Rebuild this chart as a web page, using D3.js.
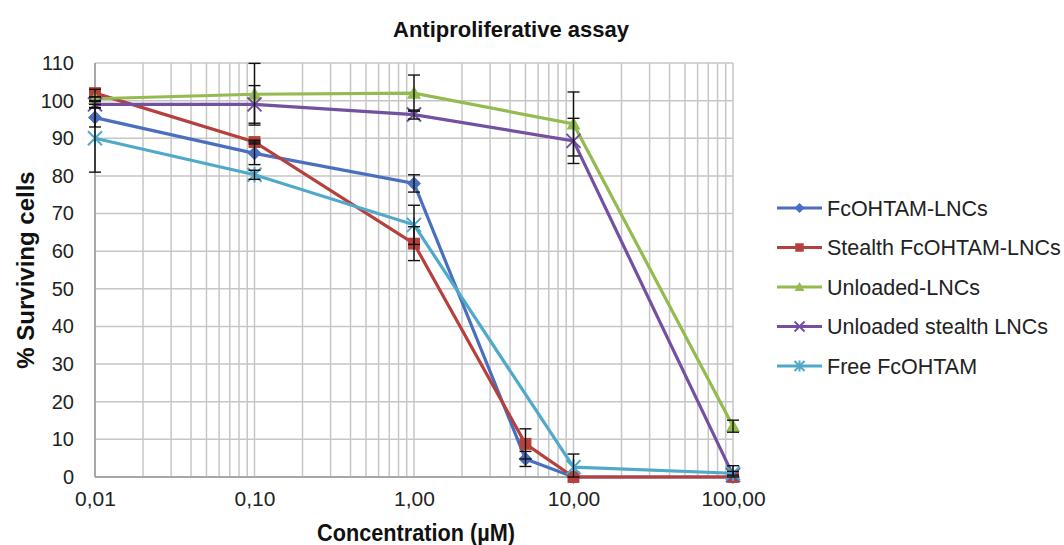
<!DOCTYPE html>
<html><head><meta charset="utf-8">
<script src="https://cdn.jsdelivr.net/npm/d3@7"></script>
<style>body{margin:0;background:#fff;font-family:"Liberation Sans",Arial,sans-serif;}</style>
</head><body><svg id="c" width="1064" height="545"></svg>
<script>
const seriesNames = ["FcOHTAM-LNCs","Stealth FcOHTAM-LNCs","Unloaded-LNCs","Unloaded stealth LNCs","Free FcOHTAM"];
const seriesColors = ["#4A6FBF","#B5403C","#93BB4F","#7350A0","#4FA9C9"];
const seriesMarkers = ["diamond","square","triangle","x","star"];
const concFc = [0.01,0.1,1,5,10,100];
const valFc = [95.5,86,78,4.8,0,0];
const errFc = [2.5,3,2.3,2,0,0];
const concStealth = [0.01,0.1,1,5,10,100];
const valStealth = [102,89,62,8.8,0,0];
const errStealth = [1,0.5,4.5,4,0,0];
const concUnl = [0.01,0.1,1,10,100];
const valUnl = [100.5,101.7,102,93.8,13.5];
const errUnl = [0.5,8.2,4.8,8.5,1.6];
const concUnlSt = [0.01,0.1,1,10,100];
const valUnlSt = [99,99,96.3,89.3,0.5];
const errUnlSt = [0.8,5,1.2,6,2.5];
const concFree = [0.01,0.1,1,10,100];
const valFree = [90,80.3,67,2.6,1];
const errFree = [9,1.2,5.2,3.5,0.5];
const yTicks = [0,10,20,30,40,50,60,70,80,90,100,110];
const xTicks = [0.01,0.1,1,10,100];

const allX=[concFc,concStealth,concUnl,concUnlSt,concFree];
const allV=[valFc,valStealth,valUnl,valUnlSt,valFree];
const allE=[errFc,errStealth,errUnl,errUnlSt,errFree];

const svg=d3.select("#c");
const L=95,R=733,T=63,B=477;
const x=d3.scaleLog().domain([0.01,100]).range([L,R]);
const y=d3.scaleLinear().domain([0,110]).range([B,T]);
const grid="#c6c6c6";

const minor=[];
[0.01,0.1,1,10].forEach(d=>{for(let k=1;k<=9;k++)minor.push(d*k);});
minor.push(100);
svg.append("g").selectAll("line").data(minor).join("line")
  .attr("x1",d=>x(d)).attr("x2",d=>x(d)).attr("y1",T).attr("y2",B)
  .attr("stroke",grid).attr("stroke-width",1.5);
svg.append("g").selectAll("line").data(yTicks).join("line")
  .attr("x1",L).attr("x2",R).attr("y1",d=>y(d)).attr("y2",d=>y(d))
  .attr("stroke",grid).attr("stroke-width",1.5);
svg.append("line").attr("x1",L).attr("x2",L).attr("y1",T).attr("y2",B).attr("stroke","#9a9a9a").attr("stroke-width",1.5);
svg.append("line").attr("x1",L).attr("x2",R).attr("y1",B).attr("y2",B).attr("stroke","#9a9a9a").attr("stroke-width",1.5);

const yAxis=d3.axisLeft(y).tickValues(yTicks).tickSize(0).tickPadding(21).tickFormat(d3.format("d"));
const gy=svg.append("g").attr("transform",`translate(${L},0)`).call(yAxis);
gy.select(".domain").remove();
gy.selectAll("text").attr("font-size",20).attr("fill","#222").attr("font-family","Liberation Sans, Arial");
const xAxis=d3.axisBottom(x).tickValues(xTicks).tickSize(0).tickPadding(14).tickFormat(d=>d3.format(".2f")(d).replace(".",","));
const gx=svg.append("g").attr("transform",`translate(0,${B})`).call(xAxis);
gx.select(".domain").remove();
gx.selectAll("text").attr("font-size",21).attr("fill","#222").attr("font-family","Liberation Sans, Arial");

svg.append("text").attr("x",511).attr("y",37).attr("text-anchor","middle").attr("font-weight","bold").attr("font-size",22).attr("fill","#111").text("Antiproliferative assay");
svg.append("text").attr("x",416).attr("y",541).attr("text-anchor","middle").attr("font-weight","bold").attr("font-size",23)
  .attr("font-family","Liberation Sans Narrow, Arial Narrow, Liberation Sans").attr("fill","#111")
  .attr("textLength",198).attr("lengthAdjust","spacingAndGlyphs").text("Concentration (µM)");
svg.append("text").attr("transform","translate(34,270) rotate(-90)").attr("text-anchor","middle").attr("font-weight","bold").attr("font-size",24).attr("fill","#111").text("% Surviving cells");

function marker(g,type,color,cx,cy,s){
  if(type==="diamond"){g.append("path").attr("d",`M${cx},${cy-s}L${cx+s},${cy}L${cx},${cy+s}L${cx-s},${cy}Z`).attr("fill",color);}
  else if(type==="square"){g.append("rect").attr("x",cx-s*0.85).attr("y",cy-s*0.85).attr("width",s*1.7).attr("height",s*1.7).attr("fill",color);}
  else if(type==="triangle"){g.append("path").attr("d",`M${cx},${cy-s}L${cx+s},${cy+s*0.8}L${cx-s},${cy+s*0.8}Z`).attr("fill",color);}
  else if(type==="x"){g.append("path").attr("d",`M${cx-s},${cy-s}L${cx+s},${cy+s}M${cx-s},${cy+s}L${cx+s},${cy-s}`).attr("stroke",color).attr("stroke-width",2);}
  else if(type==="star"){g.append("path").attr("d",`M${cx-s},${cy-s}L${cx+s},${cy+s}M${cx-s},${cy+s}L${cx+s},${cy-s}M${cx},${cy-s*1.1}L${cx},${cy+s*1.1}`).attr("stroke",color).attr("stroke-width",2);}
}

const line=d3.line().x(d=>x(d[0])).y(d=>y(d[1]));
[0,1,2,3,4].forEach(i=>{
  const pts=allX[i].map((c,j)=>[c,allV[i][j],allE[i][j]]);
  const g=svg.append("g");
  g.append("path").datum(pts).attr("d",line).attr("fill","none").attr("stroke",seriesColors[i]).attr("stroke-width",3.2);
  pts.forEach(p=>marker(g,seriesMarkers[i],seriesColors[i],x(p[0]),y(p[1]),7));
});
[0,1,2,3,4].forEach(i=>{
  const g=svg.append("g");
  allX[i].forEach((c,j)=>{
    const e=allE[i][j]; if(!e) return;
    const cx=x(c), v=allV[i][j];
    const y1=y(Math.max(0,v-e)), y2=y(v+e);
    g.append("line").attr("x1",cx).attr("x2",cx).attr("y1",y1).attr("y2",y2).attr("stroke","#111").attr("stroke-width",1.4);
    [y1,y2].forEach(yy=>g.append("line").attr("x1",cx-6).attr("x2",cx+6).attr("y1",yy).attr("y2",yy).attr("stroke","#111").attr("stroke-width",1.4));
  });
});

const lg=svg.append("g");
seriesNames.forEach((n,i)=>{
  const yy=208+i*39.5;
  lg.append("line").attr("x1",777).attr("x2",822).attr("y1",yy).attr("y2",yy).attr("stroke",seriesColors[i]).attr("stroke-width",3);
  marker(lg,seriesMarkers[i],seriesColors[i],799.5,yy,5);
  lg.append("text").attr("x",827).attr("y",yy+7.5).attr("font-size",21.5).attr("fill","#222").text(n);
});
</script></body></html>
